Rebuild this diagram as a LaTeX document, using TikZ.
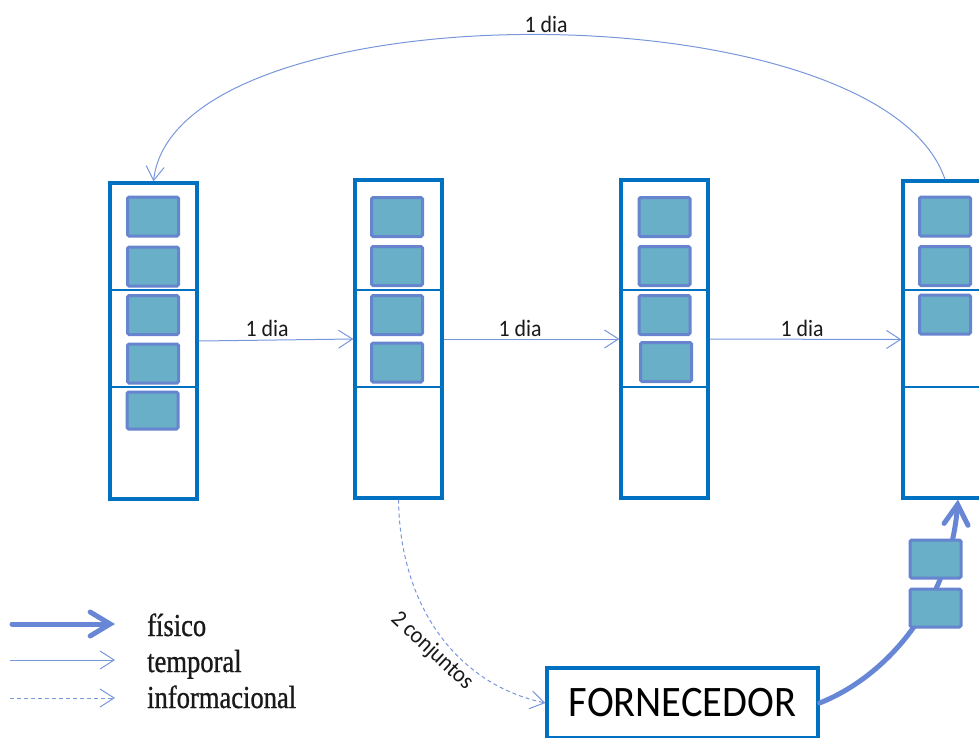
\documentclass[tikz,border=0pt]{standalone}
\usepackage{fontspec}
\usetikzlibrary{arrows.meta}
\newfontfamily\labelfont[FakeStretch=0.93]{Carlito}
\newfontfamily\legendfont[FakeStretch=0.83,FakeBold=0.8]{Liberation Serif}
\definecolor{frame}{HTML}{0070C0}
\definecolor{unitfill}{HTML}{69AFC8}
\definecolor{unitline}{HTML}{6784CF}
\definecolor{flowthin}{HTML}{7896DC}
\definecolor{flowthick}{HTML}{6787D6}
\begin{document}
\begin{tikzpicture}[x=1pt,y=-1pt,
  column/.style={draw=frame, line width=3.2pt, inner sep=0pt, minimum width=87pt},
  unit/.style={draw=unitline, fill=unitfill, line width=3pt, rounded corners=1.5pt,
    inner sep=0pt, minimum width=51pt, minimum height=39pt},
  divider/.style={draw=frame, line width=1.2pt},
  temporal/.style={draw=flowthin, line width=1pt, -{Straight Barb[length=14pt,width=18pt]}},
  informacional/.style={temporal, dash pattern=on 4pt off 3pt},
  fisico/.style={draw=flowthick, line width=5pt, line cap=round,
    -{Straight Barb[length=20pt,width=24pt,line cap=round]}},
  daylabel/.style={font=\labelfont\fontsize{23.5}{28}\selectfont, text=black!90,
    inner sep=0pt, anchor=base},
  legendtext/.style={font=\legendfont\fontsize{32}{36}\selectfont, text=black!90,
    inner sep=0pt, anchor=base west},
]
\clip (0,0) rectangle (979,737);

% stock columns
\node[column, minimum height=316pt] (c1) at (153.5,341) {};
\node[column, minimum height=318pt] (c2) at (398.5,339) {};
\node[column, minimum height=318pt] (c3) at (664.5,339) {};
\node[column, minimum height=317pt] (c4) at (946.5,339.5) {};
\foreach \c in {c1,c2,c3,c4} {
  \draw[divider] (\c.west |- 0,290) -- (\c.east |- 0,290);
  \draw[divider] (\c.west |- 0,387) -- (\c.east |- 0,387);
}

% units held in each column
\node[unit] (u11) at (153,216.5) {};
\node[unit] (u12) at (153,266.5) {};
\node[unit] (u13) at (153,315) {};
\node[unit] (u14) at (153,363.5) {};
\node[unit, minimum height=37pt] (u15) at (152.5,410.5) {};

\node[unit] (u21) at (397,217) {};
\node[unit] (u22) at (397,266) {};
\node[unit] (u23) at (397,315) {};
\node[unit] (u24) at (397,362.5) {};

\node[unit] (u31) at (664.5,217) {};
\node[unit] (u32) at (664.5,266) {};
\node[unit] (u33) at (664.5,315) {};
\node[unit] (u34) at (666,362) {};

\node[unit] (u41) at (945,216.5) {};
\node[unit] (u42) at (945,266) {};
\node[unit] (u43) at (945,314.5) {};

% time flow between columns
\draw[temporal] (c1.east) -- (c2.west);
\draw[temporal] (c2.east) -- (c3.west);
\draw[temporal] (c3.east) -- (c4.west);
\node[daylabel] (d12) at (267,336) {1 dia};
\node[daylabel] (d23) at (520,336) {1 dia};
\node[daylabel] (d34) at (802,336) {1 dia};

\draw[temporal] ([xshift=-1.5pt]c4.north) .. controls (880,-14) and (175,-14) .. (c1.north);
\node[daylabel] (dtop) at (546,32) {1 dia};

% supplier
\node[draw=frame, line width=3.2pt, minimum width=271pt, minimum height=70pt, inner sep=0pt,
  font=\labelfont\fontsize{43.5}{50}\selectfont] (forn) at (682.5,703) {FORNECEDOR};

% information flow to the supplier
\draw[informacional] (c2.south) .. controls (400,610) and (460,685) .. (forn.west);
\node[daylabel, anchor=center, rotate=-43] (conj) at (432,651) {2 conjuntos};

% physical delivery to the last column
\draw[fisico] (forn.east) .. controls (890,675) and (950,600) .. ([xshift=11.5pt]c4.south);
\node[unit, minimum height=38pt] (p1) at (935.5,559) {};
\node[unit, minimum height=38pt] (p2) at (935.5,608) {};

% legend
\coordinate (fa) at (12,624);  \coordinate (fb) at (115,624);
\coordinate (ta) at (10,660);  \coordinate (tb) at (115,660);
\coordinate (ia) at (10,698);  \coordinate (ib) at (115,698);
\draw[fisico] (fa) -- (fb);
\draw[temporal] (ta) -- (tb);
\draw[informacional] (ia) -- (ib);
\node[legendtext] (lf) at (147,636) {físico};
\node[legendtext] (lt) at (147,672) {temporal};
\node[legendtext] (li) at (147,708) {informacional};
\end{tikzpicture}
\end{document}
